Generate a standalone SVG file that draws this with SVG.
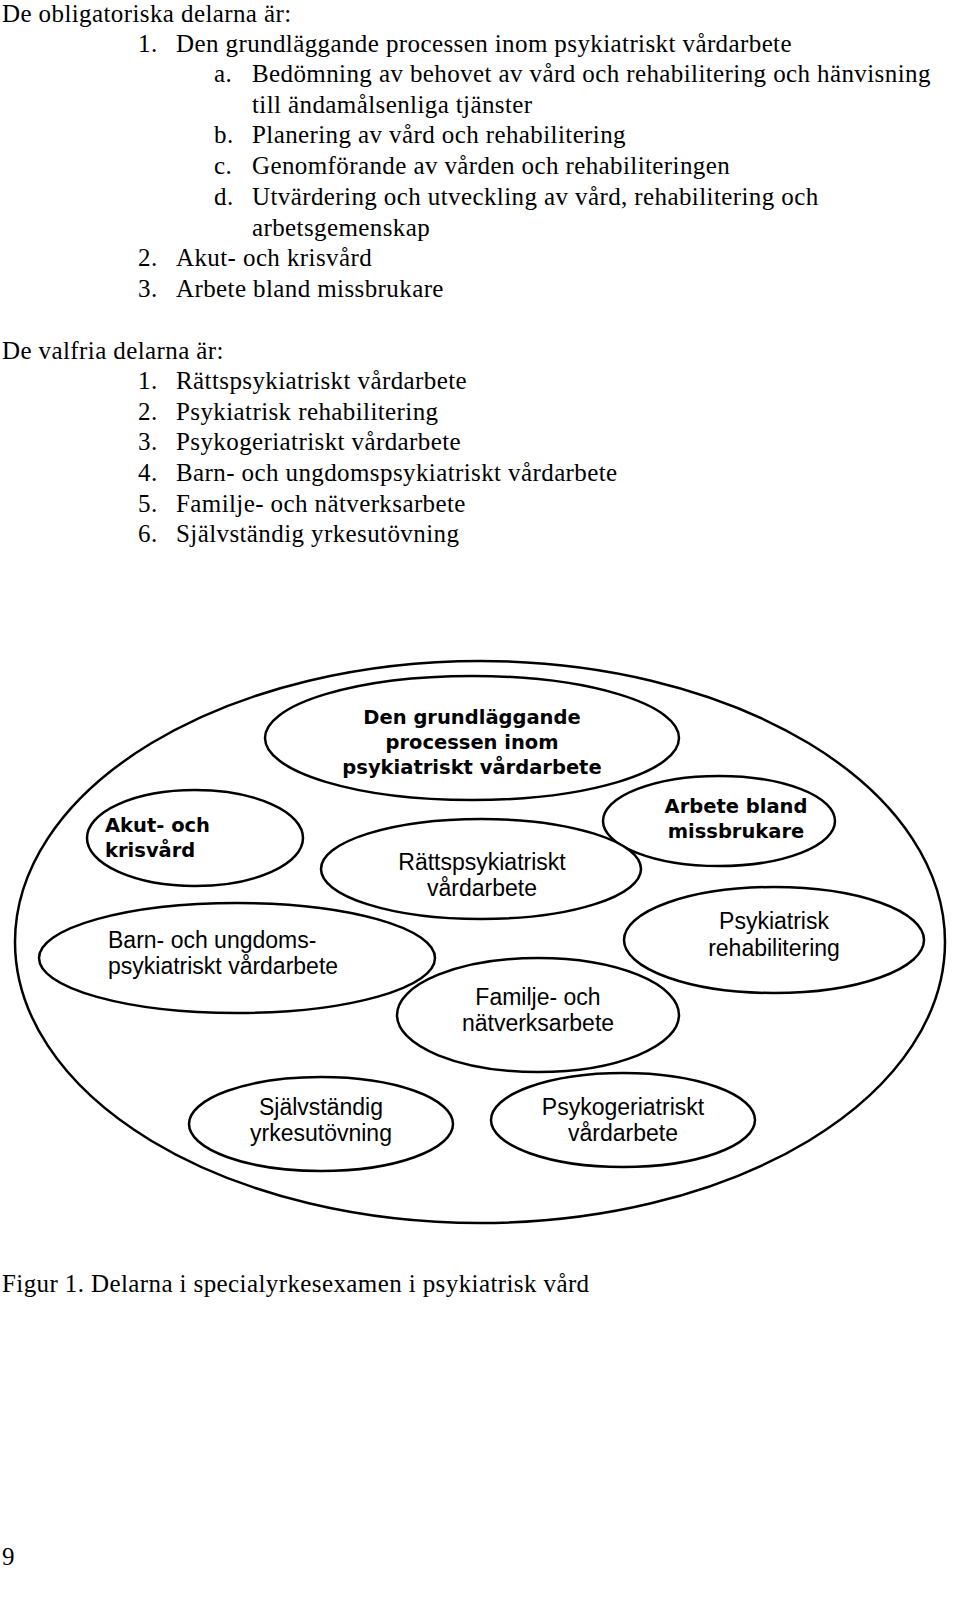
<svg xmlns="http://www.w3.org/2000/svg" width="960" height="1600" viewBox="0 0 960 1600">
<style>
.t{font-family:"Liberation Serif",serif;font-size:25px;letter-spacing:0.4px;fill:#000}
.e{fill:#fff;stroke:#000;stroke-width:2.5}
.b{font-family:"DejaVu Sans",sans-serif;font-weight:bold;font-size:19.5px;fill:#000}
.a{font-family:"Liberation Sans",Arial,sans-serif;font-size:23px;fill:#000}
</style>
<rect width="960" height="1600" fill="#fff"/>
<g id="text">
<text class="t" x="2" y="22">De obligatoriska delarna är:</text>
<text class="t" x="138" y="52">1.</text><text class="t" x="176" y="52">Den grundläggande processen inom psykiatriskt vårdarbete</text>
<text class="t" x="214" y="82">a.</text><text class="t" x="252" y="82">Bedömning av behovet av vård och rehabilitering och hänvisning</text>
<text class="t" x="252" y="113">till ändamålsenliga tjänster</text>
<text class="t" x="214" y="143">b.</text><text class="t" x="252" y="143">Planering av vård och rehabilitering</text>
<text class="t" x="214" y="174">c.</text><text class="t" x="252" y="174">Genomförande av vården och rehabiliteringen</text>
<text class="t" x="214" y="205">d.</text><text class="t" x="252" y="205">Utvärdering och utveckling av vård, rehabilitering och</text>
<text class="t" x="252" y="236">arbetsgemenskap</text>
<text class="t" x="138" y="266">2.</text><text class="t" x="176" y="266">Akut- och krisvård</text>
<text class="t" x="138" y="297">3.</text><text class="t" x="176" y="297">Arbete bland missbrukare</text>
<text class="t" x="2" y="359">De valfria delarna är:</text>
<text class="t" x="138" y="389">1.</text><text class="t" x="176" y="389">Rättspsykiatriskt vårdarbete</text>
<text class="t" x="138" y="420">2.</text><text class="t" x="176" y="420">Psykiatrisk rehabilitering</text>
<text class="t" x="138" y="450">3.</text><text class="t" x="176" y="450">Psykogeriatriskt vårdarbete</text>
<text class="t" x="138" y="481">4.</text><text class="t" x="176" y="481">Barn- och ungdomspsykiatriskt vårdarbete</text>
<text class="t" x="138" y="512">5.</text><text class="t" x="176" y="512">Familje- och nätverksarbete</text>
<text class="t" x="138" y="542">6.</text><text class="t" x="176" y="542">Självständig yrkesutövning</text>
<text class="t" x="2" y="1292">Figur 1. Delarna i specialyrkesexamen i psykiatrisk vård</text>
<text class="t" x="2" y="1565">9</text>
</g>
<g id="outer"><ellipse class="e" cx="480" cy="942" rx="465" ry="281"/></g>
<g id="n1"><ellipse class="e" cx="472" cy="738" rx="207" ry="62"/>
<text class="b" text-anchor="middle"><tspan x="472" y="724">Den grundläggande</tspan><tspan x="472" y="749">processen inom</tspan><tspan x="472" y="774">psykiatriskt vårdarbete</tspan></text></g>
<g id="n2"><ellipse class="e" cx="195" cy="838" rx="108" ry="48"/>
<text class="b"><tspan x="105" y="832">Akut- och</tspan><tspan x="105" y="857">krisvård</tspan></text></g>
<g id="n3"><ellipse class="e" cx="719" cy="821" rx="116" ry="45"/>
<text class="b" text-anchor="middle"><tspan x="736" y="813">Arbete bland</tspan><tspan x="736" y="838">missbrukare</tspan></text></g>
<g id="n4"><ellipse class="e" cx="481" cy="869" rx="160" ry="50"/>
<text class="a" text-anchor="middle"><tspan x="482" y="870">Rättspsykiatriskt</tspan><tspan x="482" y="896">vårdarbete</tspan></text></g>
<g id="n5"><ellipse class="e" cx="237" cy="958" rx="198" ry="55"/>
<text class="a"><tspan x="108" y="948">Barn- och ungdoms-</tspan><tspan x="108" y="974">psykiatriskt vårdarbete</tspan></text></g>
<g id="n6"><ellipse class="e" cx="774" cy="940" rx="150" ry="53"/>
<text class="a" text-anchor="middle"><tspan x="774" y="929">Psykiatrisk</tspan><tspan x="774" y="956">rehabilitering</tspan></text></g>
<g id="n7"><ellipse class="e" cx="538" cy="1015" rx="141" ry="57"/>
<text class="a" text-anchor="middle"><tspan x="538" y="1005">Familje- och</tspan><tspan x="538" y="1031">nätverksarbete</tspan></text></g>
<g id="n8"><ellipse class="e" cx="321" cy="1124" rx="132" ry="47"/>
<text class="a" text-anchor="middle"><tspan x="321" y="1115">Självständig</tspan><tspan x="321" y="1141">yrkesutövning</tspan></text></g>
<g id="n9"><ellipse class="e" cx="623" cy="1120" rx="132" ry="47"/>
<text class="a" text-anchor="middle"><tspan x="623" y="1115">Psykogeriatriskt</tspan><tspan x="623" y="1141">vårdarbete</tspan></text></g>
<g id="connectors"/>
</svg>
